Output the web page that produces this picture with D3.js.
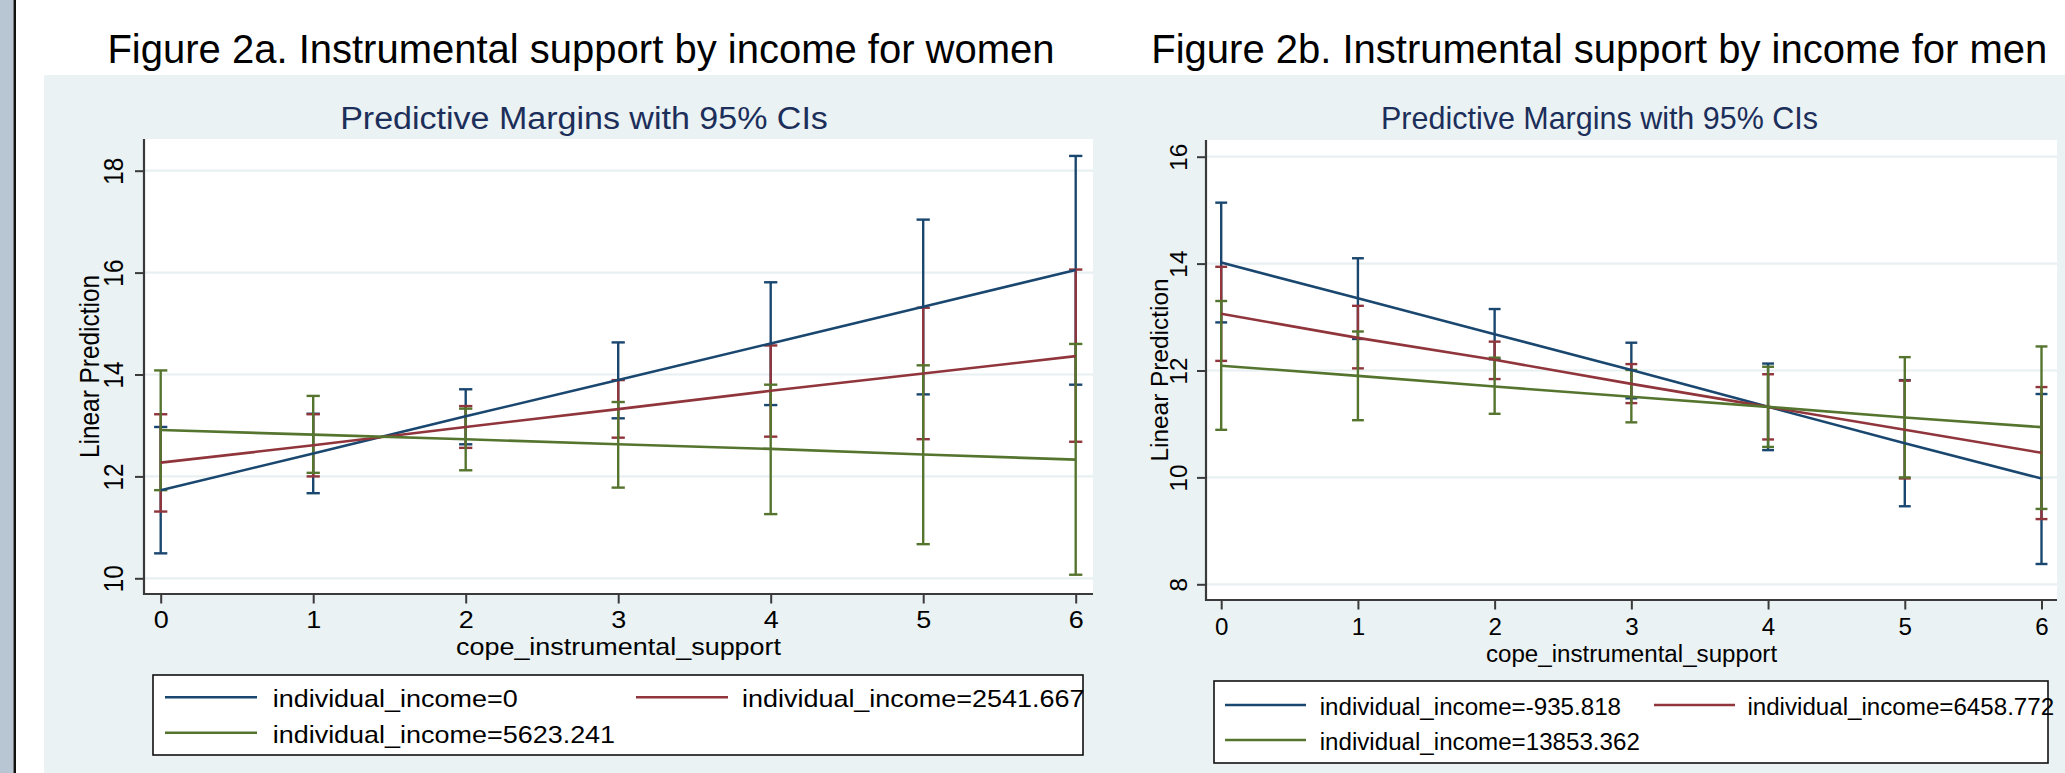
<!DOCTYPE html>
<html>
<head>
<meta charset="utf-8">
<script src="https://cdn.jsdelivr.net/npm/d3@7"></script>
<style>
  body { margin: 0; background: #fff; }
  svg { display: block; }
  text { font-family: "Liberation Sans", Arial, Helvetica, sans-serif; }
</style>
</head>
<body>
<svg width="2065" height="773"></svg>
<script>
// x values (cope_instrumental_support)
const xValues = [0, 1, 2, 3, 4, 5, 6];

// Figure 2a: women
const womenIncome = ["individual_income=0", "individual_income=2541.667", "individual_income=5623.241"];
const womenMargin = [
  [11.73, 12.45, 13.18, 13.89, 14.61, 15.33, 16.05],
  [12.27, 12.61, 12.97, 13.32, 13.68, 14.02, 14.36],
  [12.91, 12.82, 12.73, 12.63, 12.54, 12.43, 12.33]
];
const womenLower = [
  [10.49, 11.67, 12.63, 13.14, 13.40, 13.61, 13.80],
  [11.31, 12.00, 12.56, 12.76, 12.78, 12.73, 12.68],
  [11.73, 12.07, 12.12, 11.78, 11.26, 10.67, 10.07]
];
const womenUpper = [
  [12.97, 13.23, 13.71, 14.63, 15.81, 17.04, 18.29],
  [13.22, 13.22, 13.38, 13.89, 14.57, 15.31, 16.06],
  [14.08, 13.58, 13.33, 13.46, 13.80, 14.18, 14.60]
];
const womenYTicks = [10, 12, 14, 16, 18];

// Figure 2b: men
const menIncome = ["individual_income=-935.818", "individual_income=6458.772", "individual_income=13853.362"];
const menMargin = [
  [14.02, 13.35, 12.68, 12.01, 11.32, 10.64, 9.98],
  [13.06, 12.61, 12.20, 11.75, 11.32, 10.89, 10.46],
  [12.09, 11.90, 11.70, 11.51, 11.32, 11.12, 10.94]
];
const menLower = [
  [12.90, 12.59, 12.21, 11.48, 10.51, 9.46, 8.38],
  [12.18, 12.04, 11.84, 11.39, 10.71, 9.98, 9.22],
  [10.89, 11.07, 11.19, 11.03, 10.57, 10.00, 9.41]
];
const menUpper = [
  [15.14, 14.10, 13.15, 12.52, 12.13, 11.82, 11.56],
  [13.94, 13.21, 12.54, 12.12, 11.93, 11.81, 11.69],
  [13.30, 12.73, 12.24, 12.01, 12.07, 12.25, 12.45]
];
const menYTicks = [8, 10, 12, 14, 16];

const seriesColors = ["#1a476f", "#90353b", "#55752f"];
const subtitle = "Predictive Margins with 95% CIs";
const xTitle = "cope_instrumental_support";
const yTitle = "Linear Prediction";

const svg = d3.select("svg");
const axisColor = "#3a3a3a";
const gridColor = "#e8f0f2";
const smallFont = 24.4;

// page background pieces
svg.append("rect").attr("x", 0).attr("y", 0).attr("width", 13.5).attr("height", 773).attr("fill", "#b8c5d3");
svg.append("rect").attr("x", 13.5).attr("y", 0).attr("width", 2.5).attr("height", 773).attr("fill", "#111");
svg.append("rect").attr("x", 44).attr("y", 75).attr("width", 2065 - 44).attr("height", 773 - 75).attr("fill", "#eaf2f3");

const panels = [
  {
    title: "Figure 2a. Instrumental support by income for women", titleX: 581,
    subX: 584, sx: 1.105,
    plot: { left: 144, right: 1093, top: 139, bottom: 594 },
    xRange: [160.7, 1075.7], yDomain: [10, 18], yRange: [578.3, 170.7], yTicks: womenYTicks,
    yTitleX: 99, yLabelOff: 21, xLabelOff: 34.3, xTitleY: 655,
    legend: { left: 153, right: 1083, top: 675, bottom: 755, keyX: [165, 636], keyLen: 92,
              textX: [272.7, 742], rows: [697.3, 732.7] },
    income: womenIncome, margin: womenMargin, lower: womenLower, upper: womenUpper
  },
  {
    title: "Figure 2b. Instrumental support by income for men", titleX: 1599.3,
    subX: 1599.5, sx: 0.99,
    plot: { left: 1206, right: 2057, top: 140, bottom: 600 },
    xRange: [1221.2, 2041.5], yDomain: [8, 16], yRange: [584.3, 156.7], yTicks: menYTicks,
    yTitleX: 1168, yLabelOff: 19, xLabelOff: 35, xTitleY: 661.5,
    legend: { left: 1214, right: 2048, top: 681, bottom: 763, keyX: [1225, 1654], keyLen: 81,
              textX: [1319.7, 1747.4], rows: [705, 740] },
    income: menIncome, margin: menMargin, lower: menLower, upper: menUpper
  }
];

panels.forEach(drawPanel);

function drawPanel(p) {
  const g = svg.append("g");
  const x = d3.scaleLinear().domain([0, 6]).range(p.xRange);
  const y = d3.scaleLinear().domain(p.yDomain).range(p.yRange);
  const cx = (p.plot.left + p.plot.right) / 2;
  const cy = (p.plot.top + p.plot.bottom) / 2;

  // figure title (on white)
  g.append("text")
    .attr("x", p.titleX).attr("y", 63.3)
    .attr("text-anchor", "middle")
    .attr("font-size", 40)
    .attr("fill", "#000")
    .text(p.title);

  // subtitle
  g.append("text")
    .attr("transform", `translate(${p.subX},129) scale(${p.sx},1)`)
    .attr("text-anchor", "middle")
    .attr("font-size", 30.8)
    .attr("fill", "#1c2e5a")
    .text(subtitle);

  // plot region
  g.append("rect")
    .attr("x", p.plot.left).attr("y", p.plot.top)
    .attr("width", p.plot.right - p.plot.left).attr("height", p.plot.bottom - p.plot.top)
    .attr("fill", "#fff");

  // gridlines
  g.append("g").selectAll("line").data(p.yTicks).join("line")
    .attr("x1", p.plot.left).attr("x2", p.plot.right)
    .attr("y1", d => y(d)).attr("y2", d => y(d))
    .attr("stroke", gridColor).attr("stroke-width", 2.2);

  // y axis
  const yAxis = g.append("g").attr("transform", `translate(${p.plot.left},0)`)
    .call(d3.axisLeft(y).tickValues(p.yTicks).tickSize(9).tickFormat(d3.format("d")));
  yAxis.select(".domain").remove();
  yAxis.selectAll("line").attr("stroke", axisColor).attr("stroke-width", 2);
  yAxis.selectAll("text")
    .attr("x", null).attr("dy", null).attr("y", null)
    .attr("text-anchor", "middle")
    .attr("transform", `translate(${-p.yLabelOff},0) scale(${p.sx},1) rotate(-90)`)
    .attr("font-size", smallFont).attr("fill", "#000");

  // x axis
  const xAxis = g.append("g").attr("transform", `translate(0,${p.plot.bottom})`)
    .call(d3.axisBottom(x).tickValues(xValues).tickSize(9.5).tickFormat(d3.format("d")));
  xAxis.select(".domain").remove();
  xAxis.selectAll("line").attr("stroke", axisColor).attr("stroke-width", 2);
  xAxis.selectAll("text")
    .attr("y", p.xLabelOff).attr("dy", null)
    .attr("transform", `scale(${p.sx},1)`)
    .attr("font-size", smallFont).attr("fill", "#000");

  // axis lines
  g.append("line")
    .attr("x1", p.plot.left).attr("x2", p.plot.left)
    .attr("y1", p.plot.top).attr("y2", p.plot.bottom + 1)
    .attr("stroke", axisColor).attr("stroke-width", 2.2);
  g.append("line")
    .attr("x1", p.plot.left - 1).attr("x2", p.plot.right)
    .attr("y1", p.plot.bottom).attr("y2", p.plot.bottom)
    .attr("stroke", axisColor).attr("stroke-width", 2.2);

  // axis titles
  g.append("text")
    .attr("transform", `translate(${cx},${p.xTitleY}) scale(${p.sx},1)`)
    .attr("text-anchor", "middle")
    .attr("font-size", smallFont).attr("fill", "#000")
    .text(xTitle);
  g.append("text")
    .attr("transform", `translate(${p.yTitleX},${cy}) scale(${p.sx},1) rotate(-90)`)
    .attr("text-anchor", "middle")
    .attr("font-size", smallFont).attr("fill", "#000")
    .text(yTitle);

  // confidence intervals
  const capHalf = 6 * p.sx;
  p.margin.forEach((series, i) => {
    const ci = g.append("g").attr("stroke", seriesColors[i]).attr("stroke-width", 2.4);
    const pts = xValues.map((xv, j) => ({ xv, lo: p.lower[i][j], hi: p.upper[i][j] }));
    ci.selectAll(".bar").data(pts).join("line").attr("class", "bar")
      .attr("x1", d => x(d.xv)).attr("x2", d => x(d.xv))
      .attr("y1", d => y(d.lo)).attr("y2", d => y(d.hi));
    ci.selectAll(".capLo").data(pts).join("line").attr("class", "capLo")
      .attr("x1", d => x(d.xv) - capHalf).attr("x2", d => x(d.xv) + capHalf)
      .attr("y1", d => y(d.lo)).attr("y2", d => y(d.lo));
    ci.selectAll(".capHi").data(pts).join("line").attr("class", "capHi")
      .attr("x1", d => x(d.xv) - capHalf).attr("x2", d => x(d.xv) + capHalf)
      .attr("y1", d => y(d.hi)).attr("y2", d => y(d.hi));
  });

  // margin lines
  const line = d3.line().x((d, j) => x(xValues[j])).y(d => y(d));
  p.margin.forEach((series, i) => {
    g.append("path").datum(series)
      .attr("d", line)
      .attr("fill", "none")
      .attr("stroke", seriesColors[i])
      .attr("stroke-width", 2.6);
  });

  // legend
  const L = p.legend;
  g.append("rect")
    .attr("x", L.left).attr("y", L.top)
    .attr("width", L.right - L.left).attr("height", L.bottom - L.top)
    .attr("fill", "#fff").attr("stroke", "#111").attr("stroke-width", 1.6);
  p.income.forEach((label, i) => {
    const col = i % 2, row = Math.floor(i / 2);
    const ly = L.rows[row];
    g.append("line")
      .attr("x1", L.keyX[col]).attr("x2", L.keyX[col] + L.keyLen)
      .attr("y1", ly).attr("y2", ly)
      .attr("stroke", seriesColors[i]).attr("stroke-width", 2.6);
    g.append("text")
      .attr("transform", `translate(${L.textX[col]},${ly + 10}) scale(${p.sx},1)`)
      .attr("font-size", smallFont).attr("fill", "#000")
      .text(label);
  });
}
</script>
</body>
</html>
